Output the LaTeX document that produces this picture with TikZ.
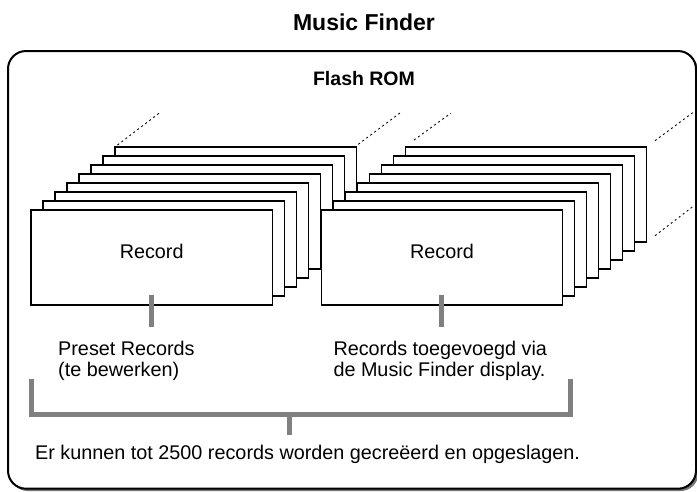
\documentclass[tikz,border=0pt]{standalone}
\usepackage{fontspec}
\setmainfont{Liberation Sans}
\usepackage{xcolor}
\definecolor{bargray}{RGB}{128,128,128}

\begin{document}
\begin{tikzpicture}[x=1pt, y=-1pt,
    every node/.style={inner sep=0pt},
    card/.style={draw=black, line width=1.2pt, fill=white},
    trail/.style={black, line width=0.9pt, dash pattern=on 2pt off 3pt},
    bar/.style={draw=bargray, line width=5pt},
    lbl/.style={font=\fontsize{19.8}{21}\selectfont}]
    \useasboundingbox (0,0) rectangle (697,491);

    % Title
    \node[font=\fontsize{23}{26}\selectfont\bfseries] (title) at (364,22.7) {Music Finder};

    % Flash ROM frame
    \fill[black!55, rounded corners=18] (10,53.5) rectangle (698.5,491);
    \draw[line width=2pt, fill=white, rounded corners=18] (8,51) rectangle (696,488.7);
    \node[font=\fontsize{19.5}{22}\selectfont\bfseries] (rom) at (364,79) {Flash ROM};

    % Preset stack
    \draw[trail] (117.5,145) -- (161,111.7);
    \draw[trail] (358.3,144.3) -- (401.7,111.7);
    \foreach \i in {7,...,0}
        \draw[card] (31+12*\i, 210-9*\i) rectangle (272.3+12*\i, 305-9*\i);
    \node[lbl] (recordL) at (151.7,251.7) {Record};

    % User stack
    \draw[trail] (414,140) -- (450.7,113.3);
    \draw[trail] (655,140.7) -- (692.7,112.7);
    \draw[trail] (655,235.7) -- (692.7,206.7);
    \foreach \i in {7,...,0}
        \draw[card] (321.7+12*\i, 210-9*\i) rectangle (562.3+12*\i, 305-9*\i);
    \node[lbl] (recordR) at (442,251.7) {Record};

    % Labels
    \node[lbl, anchor=west, align=left] (preset) at (58,361) {Preset Records\\(te bewerken)};
    \node[lbl, anchor=west, align=left] (added) at (333.3,361) {Records toegevoegd via\\de Music Finder display.};
    \node[lbl, anchor=west] (total) at (35,454) {Er kunnen tot 2500 records worden gecreëerd en opgeslagen.};

    % Bars
    \coordinate (barLtop) at (151.7,295);
    \coordinate (barLbot) at (151.7,327.3);
    \coordinate (barRtop) at (441,295);
    \coordinate (barRbot) at (441,327.3);
    \draw[bar] (barLtop) -- (barLbot);
    \draw[bar] (barRtop) -- (barRbot);

    % Bracket
    \coordinate (brL) at (31.7,379);
    \coordinate (brR) at (570.7,379);
    \coordinate (brMid) at (289.3,414.3);
    \coordinate (brStem) at (289.3,435);
    \draw[bar] (brL) -- (brL |- brMid) -- (brR |- brMid) -- (brR);
    \draw[bar] (brMid) -- (brStem);
\end{tikzpicture}
\end{document}
